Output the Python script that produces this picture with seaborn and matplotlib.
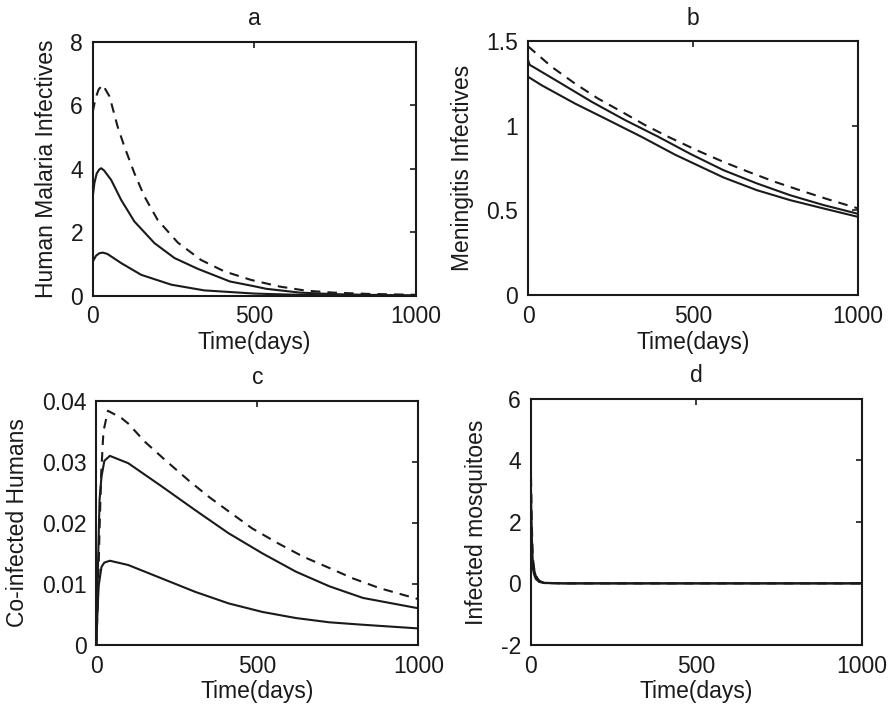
import matplotlib
matplotlib.use("Agg")
import matplotlib.pyplot as plt
import seaborn as sns
import pandas as pd

# ---------------- data ----------------
# Panel a: Human Malaria Infectives
a_dash_t = [0, 8, 18, 31, 52, 77, 98, 129, 160, 201, 263, 335, 407, 490, 579, 661, 744, 850, 1000]
a_dash_y = [5.8, 6.2, 6.5, 6.65, 6.28, 5.33, 4.70, 3.86, 3.13, 2.39, 1.68, 1.13, 0.77, 0.50, 0.29, 0.16, 0.10, 0.06, 0.03]
a_mid_t = [0, 5, 12, 20, 26, 35, 57, 88, 129, 191, 253, 325, 425, 500, 537, 641, 750, 850, 1000]
a_mid_y = [3.13, 3.55, 3.85, 3.98, 4.02, 3.95, 3.65, 3.02, 2.34, 1.66, 1.19, 0.85, 0.45, 0.30, 0.22, 0.10, 0.05, 0.03, 0.01]
a_low_t = [0, 10, 20, 31, 45, 60, 88, 150, 243, 345, 500, 600, 700, 850, 1000]
a_low_y = [1.08, 1.26, 1.34, 1.36, 1.32, 1.22, 1.03, 0.66, 0.35, 0.17, 0.07, 0.04, 0.02, 0.01, 0.005]

# Panel b: Meningitis Infectives
b_dash_t = [0, 72, 142, 213, 284, 355, 425, 511, 592, 668, 748, 829, 910, 1000]
b_dash_y = [1.47, 1.348, 1.25, 1.16, 1.083, 1.004, 0.935, 0.856, 0.787, 0.728, 0.669, 0.616, 0.565, 0.512]
b_mid_t = [0, 5, 16, 92, 193, 294, 395, 491, 592, 693, 794, 895, 1000]
b_mid_y = [1.388, 1.36, 1.348, 1.26, 1.142, 1.034, 0.935, 0.835, 0.738, 0.66, 0.59, 0.532, 0.48]
b_low_t = [0, 41, 142, 243, 344, 445, 592, 693, 794, 895, 1000]
b_low_y = [1.29, 1.24, 1.132, 1.034, 0.935, 0.83, 0.695, 0.62, 0.561, 0.512, 0.462]

# Panel c: Co-infected Humans
c_dash_t = [0, 5, 10, 15, 22, 36, 78, 99, 151, 214, 286, 349, 411, 484, 563, 641, 724, 797, 880, 1000]
c_dash_y = [0, 0.008, 0.019, 0.028, 0.035, 0.0384, 0.0372, 0.0363, 0.0333, 0.0303, 0.0270, 0.0243,
            0.0219, 0.0191, 0.0167, 0.0145, 0.0126, 0.0109, 0.0093, 0.0075]
c_mid_t = [0, 5, 10, 16, 25, 42, 99, 203, 307, 411, 516, 620, 724, 828, 1000]
c_mid_y = [0, 0.0128, 0.0238, 0.0276, 0.0302, 0.0310, 0.0298, 0.0260, 0.0221, 0.0183, 0.0150, 0.0120,
           0.0096, 0.0077, 0.0060]
c_low_t = [0, 3, 7, 16, 25, 42, 99, 203, 307, 411, 516, 620, 724, 828, 1000]
c_low_y = [0, 0.0046, 0.0096, 0.0128, 0.0135, 0.0138, 0.0131, 0.0109, 0.0087, 0.0068, 0.0054, 0.0044,
           0.0037, 0.0033, 0.0027]

# Panel d: Infected mosquitoes
d_dash_t = [0, 3, 6, 10, 15, 20, 30, 50, 100, 1000]
d_dash_y = [4.0, 2.0, 0.9, 0.5, 0.3, 0.15, 0.05, 0.01, 0, 0]
d_mid_t = [0, 3, 6, 10, 15, 25, 40, 100, 1000]
d_mid_y = [3.5, 1.6, 0.7, 0.45, 0.25, 0.08, 0.02, 0, 0]
d_low_t = [0, 3, 6, 10, 15, 25, 40, 100, 1000]
d_low_y = [2.5, 1.1, 0.5, 0.3, 0.15, 0.05, 0.01, 0, 0]

titles = ["a", "b", "c", "d"]
ylabels = ["Human Malaria Infectives", "Meningitis Infectives", "Co-infected Humans", "Infected mosquitoes"]
xticks = [0, 500, 1000]
xticklabels = ["0", "500", "1000"]
a_yticks = [0, 2, 4, 6, 8]
a_ytl = ["0", "2", "4", "6", "8"]
b_yticks = [0, 0.5, 1, 1.5]
b_ytl = ["0", "0.5", "1", "1.5"]
c_yticks = [0, 0.01, 0.02, 0.03, 0.04]
c_ytl = ["0", "0.01", "0.02", "0.03", "0.04"]
d_yticks = [-2, 0, 2, 4, 6]
d_ytl = ["-2", "0", "2", "4", "6"]

# ---------------- style ----------------
sns.set_theme(style="white")
plt.rcParams["font.family"] = ["Liberation Sans", "DejaVu Sans"]
FS = 16.5
INK = "#1a1a1a"

fig = plt.figure(figsize=(8.92, 7.11), dpi=100)
fig.patch.set_facecolor("white")

rects = [
    [0.104, 0.584, 0.362, 0.357],
    [0.592, 0.585, 0.370, 0.357],
    [0.108, 0.093, 0.361, 0.343],
    [0.595, 0.093, 0.371, 0.346],
]

panels = [
    ((a_dash_t, a_dash_y), (a_mid_t, a_mid_y), (a_low_t, a_low_y), (0, 8), a_yticks, a_ytl),
    ((b_dash_t, b_dash_y), (b_mid_t, b_mid_y), (b_low_t, b_low_y), (0, 1.5), b_yticks, b_ytl),
    ((c_dash_t, c_dash_y), (c_mid_t, c_mid_y), (c_low_t, c_low_y), (0, 0.04), c_yticks, c_ytl),
    ((d_dash_t, d_dash_y), (d_mid_t, d_mid_y), (d_low_t, d_low_y), (-2, 6), d_yticks, d_ytl),
]

LW = 1.5
for i, (dash, mid, low, ylim, yt, ytl) in enumerate(panels):
    ax = fig.add_axes(rects[i])
    ax.set_facecolor("white")
    for (t, y), ls in [(low, "-"), (mid, "-"), (dash, (0, (4.6, 3.4)))]:
        df = pd.DataFrame({"t": t, "y": y})
        sns.lineplot(data=df, x="t", y="y", ax=ax, color=INK, lw=LW,
                     linestyle=ls, estimator=None, sort=False)
    ax.set_xlim(0, 1000)
    ax.set_ylim(*ylim)
    ax.set_xticks(xticks)
    ax.set_xticklabels(xticklabels)
    ax.set_yticks(yt)
    ax.set_yticklabels(ytl)
    ax.tick_params(direction="in", length=4, width=1.2, top=True, right=True,
                   labelsize=FS, pad=7, colors=INK)
    for s in ax.spines.values():
        s.set_visible(True)
        s.set_color(INK)
        s.set_linewidth(1.5)
    ax.set_xlabel("Time(days)", fontsize=FS, labelpad=2, color=INK)
    ax.set_ylabel(ylabels[i], fontsize=FS, labelpad=9, color=INK)
    ax.set_title(titles[i], fontsize=FS, pad=12, color=INK)

fig.savefig("out.png", dpi=100, facecolor="white")
